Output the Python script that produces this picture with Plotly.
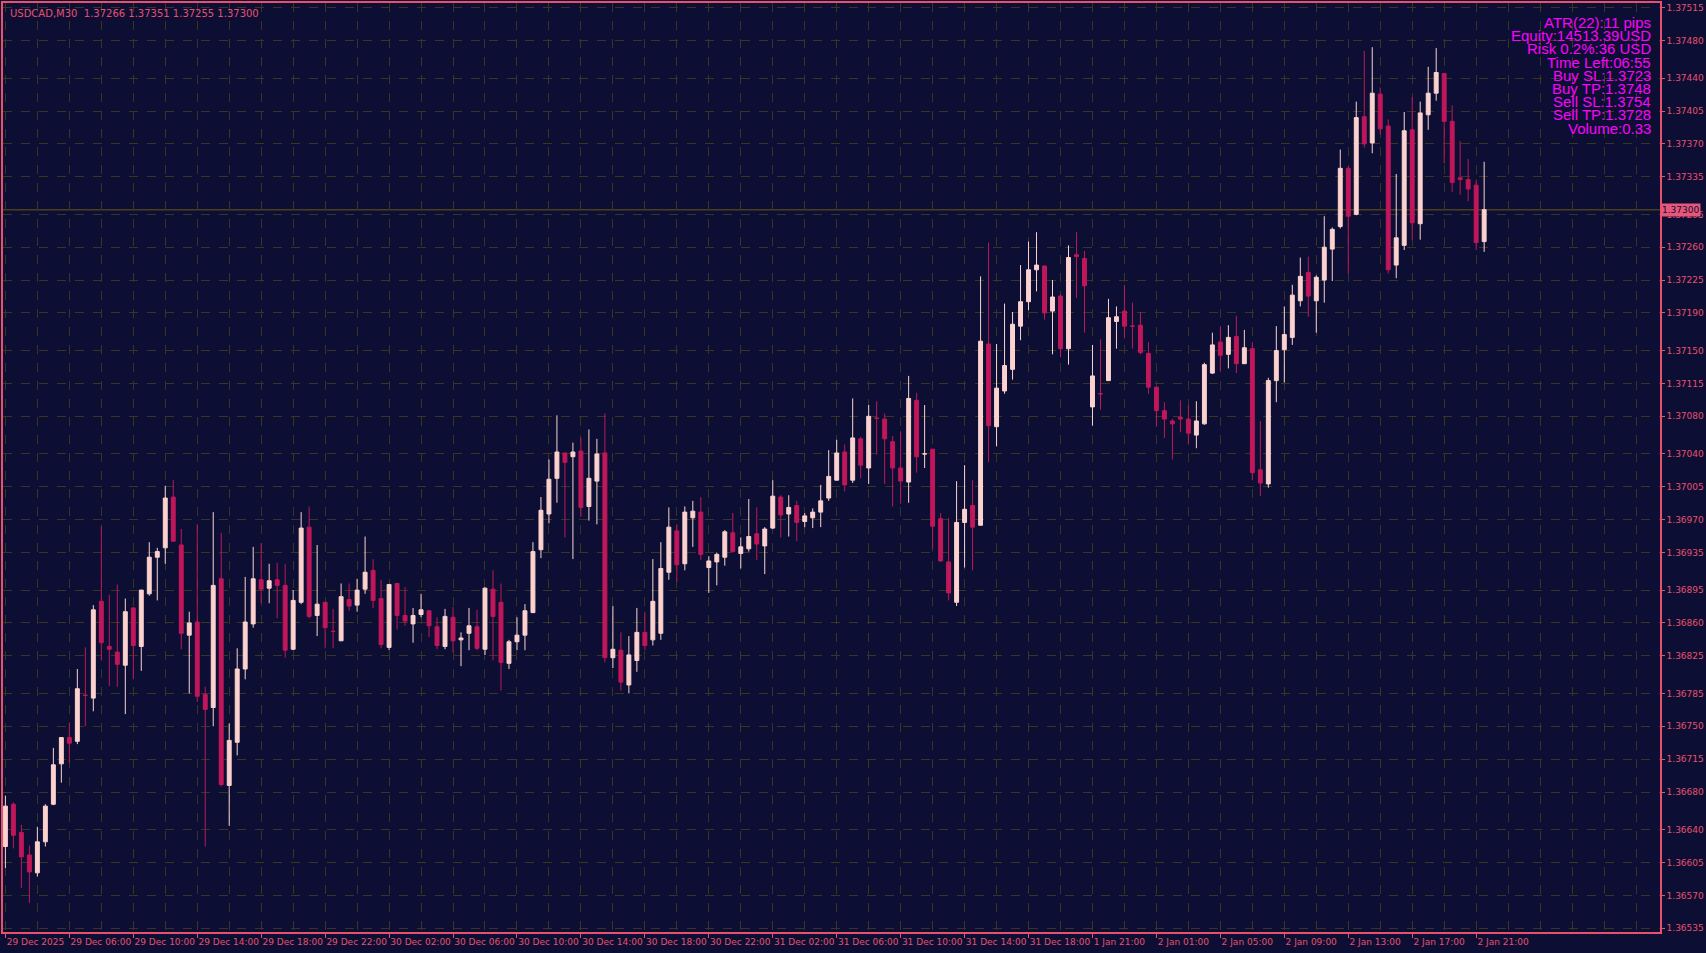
import plotly.graph_objects as go

# USDCAD M30 candles (oldest first)
opens = [1.36622, 1.36667, 1.36637, 1.36613, 1.36594, 1.36627, 1.36667, 1.36710, 1.36738, 1.36734,
         1.36783, 1.36780, 1.36883, 1.36835, 1.36829, 1.36815, 1.36876, 1.36835, 1.36891, 1.36930,
         1.36940, 1.36994, 1.36943, 1.36847, 1.36861, 1.36784, 1.36770, 1.36907, 1.36687, 1.36733,
         1.36811, 1.36859, 1.36906, 1.36897, 1.36906, 1.36900, 1.36832, 1.36882, 1.36962, 1.36868,
         1.36882, 1.36851, 1.36841, 1.36885, 1.36879, 1.36896, 1.36916, 1.36886, 1.36834, 1.36902,
         1.36868, 1.36859, 1.36869, 1.36873, 1.36856, 1.36835, 1.36866, 1.36842, 1.36849, 1.36856,
         1.36832, 1.36896, 1.36882, 1.36817, 1.36840, 1.36847, 1.36871, 1.36938, 1.36976, 1.37014,
         1.37041, 1.37037, 1.37043, 1.36984, 1.37011, 1.37041, 1.36823, 1.36831, 1.36794, 1.36820,
         1.36850, 1.36842, 1.36849, 1.36914, 1.36958, 1.36923, 1.36972, 1.36978, 1.36919, 1.36925,
         1.36930, 1.36956, 1.36934, 1.36939, 1.36955, 1.36942, 1.36961, 1.36994, 1.36976, 1.36985,
         1.36968, 1.36972, 1.36978, 1.36993, 1.37012, 1.37042, 1.37012, 1.37056, 1.37025, 1.37078,
         1.37077, 1.37053, 1.37025, 1.37010, 1.37097, 1.37040, 1.37045, 1.36971, 1.36925, 1.36882,
         1.36967, 1.36985, 1.36964, 1.37157, 1.37069, 1.37107, 1.37130, 1.37176, 1.37202, 1.37236,
         1.37240, 1.37192, 1.37208, 1.37152, 1.37252, 1.37248, 1.37090, 1.37104, 1.37118, 1.37181,
         1.37192, 1.37176, 1.37177, 1.37147, 1.37111, 1.37086, 1.37075, 1.37079, 1.37077, 1.37060,
         1.37072, 1.37126, 1.37159, 1.37146, 1.37165, 1.37136, 1.37152, 1.37023, 1.37008, 1.37118,
         1.37151, 1.37164, 1.37203, 1.37233, 1.37203, 1.37225, 1.37258, 1.37282, 1.37344, 1.37295,
         1.37399, 1.37371, 1.37423, 1.37389, 1.37241, 1.37262, 1.37385, 1.37285, 1.37401, 1.37424,
         1.37445, 1.37394, 1.37334, 1.37332, 1.37326, 1.37266]
highs = [1.36676, 1.36669, 1.36645, 1.36623, 1.36643, 1.36667, 1.36727, 1.36738, 1.36754, 1.36811,
         1.36834, 1.36879, 1.36963, 1.36890, 1.36901, 1.36886, 1.36877, 1.36895, 1.36946, 1.36940,
         1.37006, 1.37012, 1.36960, 1.36872, 1.36965, 1.36792, 1.36978, 1.36956, 1.36753, 1.36833,
         1.36909, 1.36941, 1.36945, 1.36923, 1.36924, 1.36923, 1.36895, 1.36978, 1.36984, 1.36943,
         1.36882, 1.36875, 1.36902, 1.36902, 1.36907, 1.36952, 1.36928, 1.36906, 1.36901, 1.36902,
         1.36898, 1.36876, 1.36891, 1.36873, 1.36866, 1.36875, 1.36877, 1.36850, 1.36876, 1.36874,
         1.36898, 1.36916, 1.36902, 1.36842, 1.36866, 1.36880, 1.36946, 1.36994, 1.37034, 1.37081,
         1.37041, 1.37052, 1.37057, 1.37066, 1.37056, 1.37083, 1.36878, 1.36850, 1.36846, 1.36876,
         1.36872, 1.36928, 1.36946, 1.36983, 1.36965, 1.36984, 1.36990, 1.36994, 1.36931, 1.36935,
         1.36959, 1.36977, 1.36951, 1.36992, 1.36983, 1.36962, 1.37012, 1.36996, 1.36996, 1.36990,
         1.36977, 1.36982, 1.37007, 1.37044, 1.37055, 1.37050, 1.37099, 1.37058, 1.37092, 1.37096,
         1.37083, 1.37059, 1.37064, 1.37123, 1.37105, 1.37092, 1.37045, 1.36977, 1.36972, 1.37011,
         1.37028, 1.37012, 1.37229, 1.37265, 1.37157, 1.37200, 1.37191, 1.37241, 1.37266, 1.37276,
         1.37240, 1.37225, 1.37210, 1.37262, 1.37276, 1.37256, 1.37156, 1.37162, 1.37205, 1.37197,
         1.37220, 1.37201, 1.37191, 1.37159, 1.37111, 1.37095, 1.37077, 1.37097, 1.37092, 1.37096,
         1.37137, 1.37169, 1.37176, 1.37177, 1.37187, 1.37172, 1.37159, 1.37075, 1.37121, 1.37176,
         1.37197, 1.37220, 1.37249, 1.37250, 1.37230, 1.37293, 1.37281, 1.37364, 1.37346, 1.37415,
         1.37469, 1.37473, 1.37430, 1.37396, 1.37338, 1.37404, 1.37420, 1.37415, 1.37452, 1.37472,
         1.37445, 1.37411, 1.37373, 1.37354, 1.37332, 1.37351]
lows = [1.36599, 1.36620, 1.36578, 1.36562, 1.36590, 1.36622, 1.36666, 1.36690, 1.36711, 1.36731,
        1.36750, 1.36766, 1.36820, 1.36793, 1.36792, 1.36763, 1.36800, 1.36809, 1.36889, 1.36884,
        1.36923, 1.36947, 1.36832, 1.36785, 1.36776, 1.36622, 1.36750, 1.36686, 1.36644, 1.36719,
        1.36800, 1.36855, 1.36881, 1.36881, 1.36865, 1.36823, 1.36831, 1.36880, 1.36865, 1.36846,
        1.36833, 1.36833, 1.36841, 1.36873, 1.36872, 1.36891, 1.36876, 1.36833, 1.36831, 1.36853,
        1.36857, 1.36839, 1.36866, 1.36845, 1.36832, 1.36832, 1.36829, 1.36814, 1.36831, 1.36831,
        1.36826, 1.36820, 1.36788, 1.36811, 1.36831, 1.36831, 1.36871, 1.36929, 1.36966, 1.36988,
        1.36951, 1.36928, 1.36973, 1.36969, 1.36965, 1.36818, 1.36812, 1.36788, 1.36785, 1.36808,
        1.36831, 1.36836, 1.36842, 1.36906, 1.36904, 1.36916, 1.36941, 1.36927, 1.36892, 1.36900,
        1.36921, 1.36935, 1.36918, 1.36936, 1.36927, 1.36912, 1.36960, 1.36951, 1.36952, 1.36947,
        1.36962, 1.36961, 1.36962, 1.36990, 1.37012, 1.37000, 1.37009, 1.37014, 1.37008, 1.37039,
        1.37008, 1.36984, 1.36987, 1.36988, 1.37020, 1.37025, 1.36939, 1.36925, 1.36884, 1.36878,
        1.36919, 1.36916, 1.36964, 1.37031, 1.37048, 1.37104, 1.37119, 1.37161, 1.37193, 1.37213,
        1.37183, 1.37146, 1.37143, 1.37135, 1.37206, 1.37169, 1.37070, 1.37087, 1.37118, 1.37152,
        1.37163, 1.37152, 1.37146, 1.37104, 1.37069, 1.37057, 1.37034, 1.37063, 1.37050, 1.37046,
        1.37071, 1.37125, 1.37128, 1.37131, 1.37126, 1.37136, 1.37012, 1.36995, 1.37004, 1.37095,
        1.37116, 1.37156, 1.37197, 1.37186, 1.37169, 1.37201, 1.37224, 1.37280, 1.37232, 1.37294,
        1.37366, 1.37360, 1.37380, 1.37232, 1.37227, 1.37257, 1.37268, 1.37268, 1.37385, 1.37416,
        1.37349, 1.37319, 1.37316, 1.37309, 1.37257, 1.37255]
closes = [1.36665, 1.36634, 1.36611, 1.36595, 1.36627, 1.36665, 1.36709, 1.36738, 1.36732, 1.36790,
          1.36783, 1.36874, 1.36839, 1.36832, 1.36816, 1.36872, 1.36836, 1.36895, 1.36930, 1.36936,
          1.36993, 1.36947, 1.36849, 1.36860, 1.36782, 1.36768, 1.36900, 1.36688, 1.36735, 1.36811,
          1.36861, 1.36907, 1.36896, 1.36905, 1.36900, 1.36831, 1.36884, 1.36961, 1.36867, 1.36880,
          1.36855, 1.36851, 1.36888, 1.36878, 1.36895, 1.36914, 1.36884, 1.36837, 1.36901, 1.36868,
          1.36862, 1.36868, 1.36874, 1.36857, 1.36836, 1.36867, 1.36841, 1.36844, 1.36857, 1.36833,
          1.36897, 1.36867, 1.36818, 1.36840, 1.36847, 1.36873, 1.36936, 1.36980, 1.37013, 1.37042,
          1.37031, 1.37042, 1.36983, 1.37014, 1.37040, 1.36823, 1.36832, 1.36797, 1.36826, 1.36850,
          1.36836, 1.36883, 1.36918, 1.36962, 1.36922, 1.36978, 1.36979, 1.36933, 1.36926, 1.36933,
          1.36957, 1.36936, 1.36941, 1.36952, 1.36944, 1.36960, 1.36995, 1.36975, 1.36983, 1.36967,
          1.36974, 1.36978, 1.36990, 1.37016, 1.37041, 1.37007, 1.37057, 1.37028, 1.37080, 1.37078,
          1.37056, 1.37025, 1.37011, 1.37099, 1.37037, 1.37040, 1.36963, 1.36926, 1.36892, 1.36967,
          1.36981, 1.36962, 1.37160, 1.37070, 1.37110, 1.37134, 1.37178, 1.37202, 1.37236, 1.37241,
          1.37190, 1.37207, 1.37152, 1.37249, 1.37250, 1.37219, 1.37123, 1.37104, 1.37185, 1.37186,
          1.37176, 1.37176, 1.37148, 1.37111, 1.37086, 1.37077, 1.37072, 1.37077, 1.37062, 1.37075,
          1.37135, 1.37156, 1.37145, 1.37164, 1.37136, 1.37153, 1.37020, 1.37009, 1.37118, 1.37150,
          1.37167, 1.37209, 1.37229, 1.37208, 1.37228, 1.37260, 1.37279, 1.37344, 1.37293, 1.37398,
          1.37370, 1.37424, 1.37386, 1.37236, 1.37270, 1.37384, 1.37286, 1.37403, 1.37424, 1.37446,
          1.37394, 1.37329, 1.37332, 1.37322, 1.37265, 1.37300]

time_labels = ["29 Dec 2025", "29 Dec 06:00", "29 Dec 10:00", "29 Dec 14:00", "29 Dec 18:00",
               "29 Dec 22:00", "30 Dec 02:00", "30 Dec 06:00", "30 Dec 10:00", "30 Dec 14:00",
               "30 Dec 18:00", "30 Dec 22:00", "31 Dec 02:00", "31 Dec 06:00", "31 Dec 10:00",
               "31 Dec 14:00", "31 Dec 18:00", "1 Jan 21:00", "2 Jan 01:00", "2 Jan 05:00",
               "2 Jan 09:00", "2 Jan 13:00", "2 Jan 17:00", "2 Jan 21:00"]
price_ticks = [1.36535, 1.36570, 1.36605, 1.36640, 1.36680, 1.36715, 1.36750, 1.36785, 1.36825,
               1.36860, 1.36895, 1.36935, 1.36970, 1.37005, 1.37040, 1.37080, 1.37115, 1.37150,
               1.37190, 1.37225, 1.37260, 1.37295, 1.37335, 1.37370, 1.37405, 1.37440, 1.37480,
               1.37515]
info_lines = ["ATR(22):11 pips", "Equity:14513.39USD", "Risk 0.2%:36 USD", "Time Left:06:55",
              "Buy SL:1.3723", "Buy TP:1.3748", "Sell SL:1.3754", "Sell TP:1.3728", "Volume:0.33"]

BG = "#0c0f33"
FRAME = "#e8506e"
GRID = "#3a3422"
BULL = "#fcd2cf"
BEAR = "#c0175a"

idx = list(range(len(opens)))

fig = go.Figure(go.Candlestick(
    x=idx, open=opens, high=highs, low=lows, close=closes,
    increasing=dict(line=dict(color=BULL, width=1), fillcolor=BULL),
    decreasing=dict(line=dict(color=BEAR, width=1), fillcolor=BEAR),
    whiskerwidth=0, hoverinfo="skip",
))

# current price line
fig.add_shape(type="line", xref="paper", x0=0, x1=1, yref="y", y0=closes[-1], y1=closes[-1],
              line=dict(color="#4a3f1c", width=1.5), layer="below")

fig.add_annotation(xref="paper", x=1.0, y=closes[-1], text="%.5f" % closes[-1], showarrow=False,
                   xanchor="left", yanchor="middle", bgcolor="#e8577a", borderpad=1,
                   font=dict(family="DejaVu Sans", size=9, color=BG))

fig.add_annotation(xref="paper", yref="paper", x=0.003, y=0.997, xanchor="left", yanchor="top",
                   showarrow=False,
                   text="USDCAD,M30  %.5f %.5f %.5f %.5f" % (opens[-1], highs[-1], lows[-1], closes[-1]),
                   font=dict(family="DejaVu Sans", size=10, color=FRAME))

for k, line in enumerate(info_lines):
    fig.add_annotation(xref="paper", yref="paper", x=0.996, y=0.979 - k * 0.0142,
                       xanchor="right", yanchor="middle", showarrow=False, text=line,
                       font=dict(family="Liberation Sans", size=15, color="#ff00ff"))

fig.update_layout(
    width=1706, height=953,
    margin=dict(l=3, r=46, t=3, b=21),
    paper_bgcolor=BG, plot_bgcolor=BG,
    showlegend=False,
    xaxis=dict(
        range=[-0.3, 207], rangeslider=dict(visible=False), automargin=False,
        tickvals=idx[::8][:len(time_labels)], ticktext=time_labels, tickangle=0,
        ticklabelposition="outside right", ticks="outside", ticklen=4, tickcolor=FRAME,
        tickfont=dict(family="DejaVu Sans", size=9, color=FRAME),
        showgrid=False, zeroline=False,
        minor=dict(tick0=0, dtick=4, showgrid=True, gridcolor=GRID, griddash="dash", gridwidth=1),
        showline=True, linecolor=FRAME, linewidth=1.5, mirror=True,
    ),
    yaxis=dict(
        side="right", range=[1.36531, 1.37520], automargin=False,
        tickvals=price_ticks, ticktext=["%.5f" % p for p in price_ticks],
        ticks="outside", ticklen=3, tickcolor=FRAME,
        tickfont=dict(family="DejaVu Sans", size=9, color=FRAME),
        showgrid=True, gridcolor=GRID, griddash="dash", gridwidth=1, zeroline=False,
        showline=True, linecolor=FRAME, linewidth=1.5, mirror=True,
    ),
)

fig.write_html("out.html", config={"displayModeBar": False},
               post_script="document.body.style.margin='0';")
